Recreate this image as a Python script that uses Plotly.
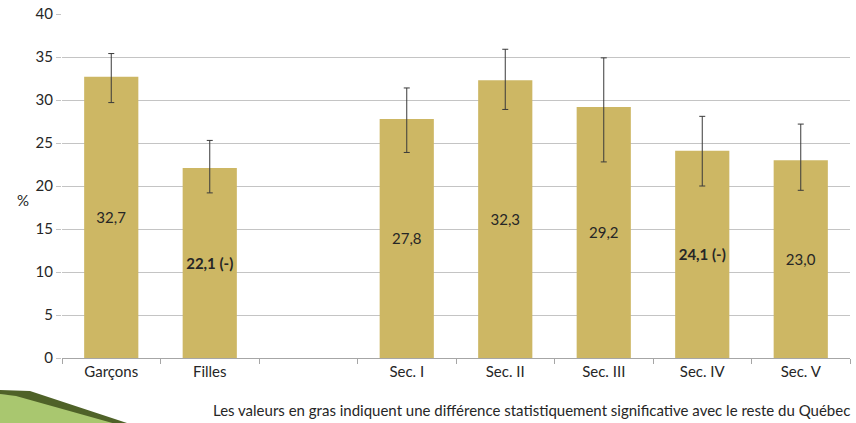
import plotly.graph_objects as go

categories = ["Garçons", "Filles", " ", "Sec. I", "Sec. II", "Sec. III", "Sec. IV", "Sec. V"]
values = [32.7, 22.1, None, 27.8, 32.3, 29.2, 24.1, 23.0]
upper = [35.4, 25.3, None, 31.4, 35.9, 34.9, 28.1, 27.2]
lower = [29.7, 19.2, None, 23.9, 28.9, 22.8, 20.0, 19.5]
labels = ["32,7", "<b>22,1 (-)</b>", "", "27,8", "32,3", "29,2", "<b>24,1 (-)</b>", "23,0"]
y_ticks = [0, 5, 10, 15, 20, 25, 30, 35, 40]
footer = "Les valeurs en gras indiquent une différence statistiquement significative avec le reste du Québec"

err_plus = [None if v is None else round(u - v, 2) for v, u in zip(values, upper)]
err_minus = [None if v is None else round(v - l, 2) for v, l in zip(values, lower)]

font_family = "Lato, 'Open Sans', sans-serif"

W, H = 856, 423
ML, MR, MT, MB = 62, 6, 14, 65

fig = go.Figure()
fig.add_trace(go.Bar(
    x=categories, y=values, text=labels,
    textposition="inside", insidetextanchor="middle", textangle=0,
    textfont=dict(color="#262626", size=15, family=font_family),
    marker=dict(color="#CDB764", line=dict(width=0)),
    width=0.55,
    error_y=dict(type="data", symmetric=False, array=err_plus, arrayminus=err_minus,
                 color="#3A3A3A", thickness=1, width=3),
    hoverinfo="skip",
))

plot_w = W - ML - MR
plot_h = H - MT - MB
def px(x):
    return (x - ML) / plot_w
def py(y):
    return (H - MB - y) / plot_h

fig.update_layout(
    width=W, height=H,
    margin=dict(l=ML, r=MR, t=MT, b=MB, autoexpand=False),
    paper_bgcolor="white", plot_bgcolor="white",
    showlegend=False,
    font=dict(family=font_family, size=15, color="#262626"),
    xaxis=dict(
        type="category", categoryorder="array", categoryarray=categories,
        showline=True, linecolor="#A6A6A6", linewidth=1, automargin=False,
        ticks="outside", tickson="boundaries", ticklen=5, tickcolor="#A6A6A6",
        showgrid=False, tickfont=dict(size=15, color="#262626"),
    ),
    yaxis=dict(
        range=[0, 40], tickvals=y_ticks, showgrid=True, gridcolor="#C4C4C4", gridwidth=1,
        zeroline=False, showline=False, ticks="outside", ticklen=5, tickcolor="#C4C4C4",
        tickfont=dict(size=15, color="#262626"), automargin=False,
    ),
    annotations=[
        dict(text="%", xref="paper", yref="paper", x=px(15), y=py(200), showarrow=False,
             font=dict(size=15, color="#262626", family=font_family)),
        dict(text=footer, xref="paper", yref="paper", x=px(852), y=py(410), xanchor="right",
             yanchor="middle", showarrow=False,
             font=dict(size=15, color="#262626", family=font_family)),
    ],
)

fig.add_shape(type="path", xref="paper", yref="paper", layer="above",
              path=f"M {px(0)} {py(394)} L {px(20)} {py(395)} L {px(122)} {py(424)} L {px(0)} {py(424)} Z",
              fillcolor="#A9C76F", line=dict(width=0))
fig.add_shape(type="path", xref="paper", yref="paper", layer="above",
              path=f"M {px(0)} {py(390)} L {px(30)} {py(391)} L {px(130)} {py(424)} L {px(116)} {py(424)} L {px(16)} {py(396)} L {px(0)} {py(394)} Z",
              fillcolor="#4F6228", line=dict(width=0))

fig.write_html("out.html",
               config={"displayModeBar": False, "staticPlot": True},
               post_script="document.body.style.margin='0';document.body.style.overflow='hidden';")
